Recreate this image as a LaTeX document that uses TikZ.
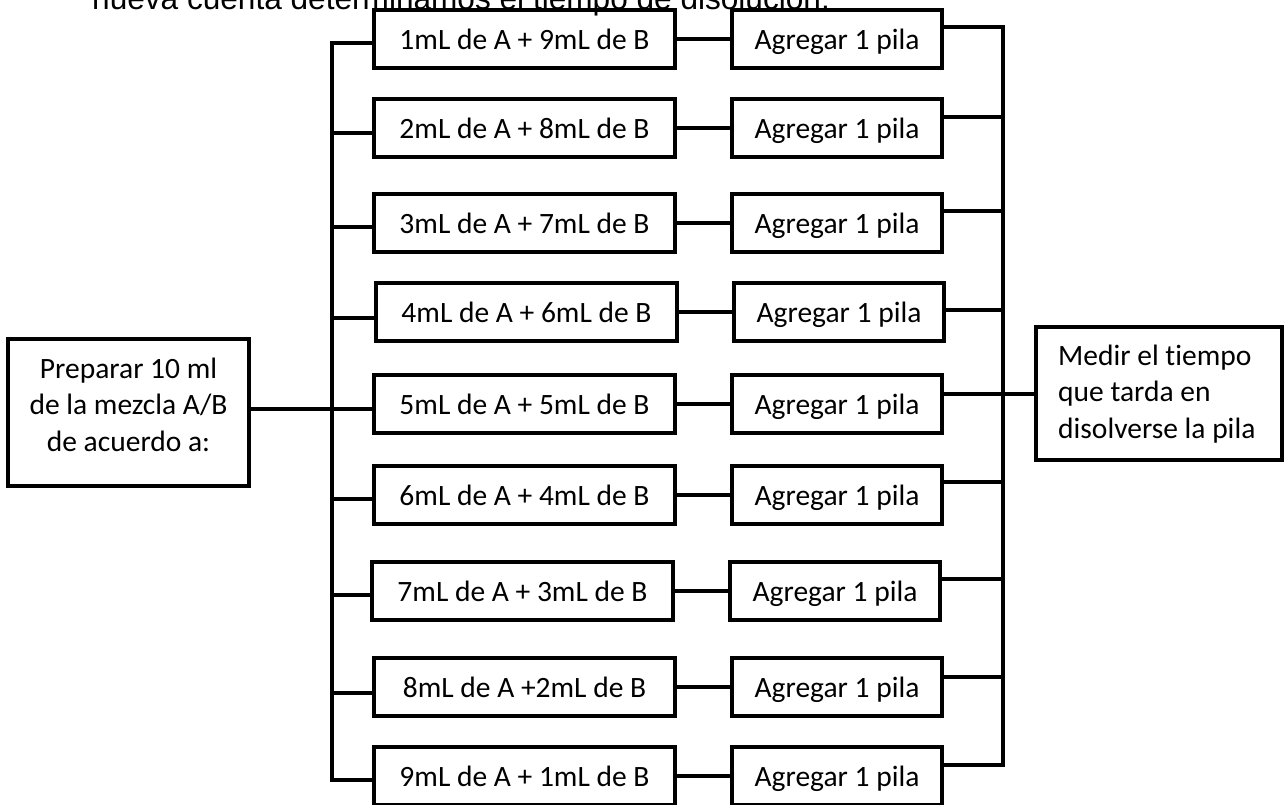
\documentclass[tikz,border=0pt]{standalone}
\usepackage{fontspec}
\setmainfont[Ligatures=NoCommon]{Carlito}
\newfontfamily\arialf{Liberation Sans}
\usetikzlibrary{calc}
\begin{document}
\begin{tikzpicture}[x=1pt,y=-1pt,
  box/.style={draw, line width=3.2pt, minimum width=301pt, minimum height=58pt, inner sep=0pt,
    text height=22pt, text depth=2pt,
    font=\fontsize{29.5}{36.5}\selectfont},
  pbox/.style={box, minimum width=210pt},
  frame/.style={draw, line width=3.2pt, inner sep=0pt},
  txt/.style={inner sep=0pt, font=\fontsize{29.5}{36.5}\selectfont},
  wire/.style={line width=3.2pt}]
\useasboundingbox (0,0) rectangle (1288,804);

% cut-off heading
\node[anchor=base west, inner sep=0pt, font=\arialf\fontsize{31.6}{38}\selectfont] (head) at (92,9)
  {nueva cuenta determinamos el tiempo de disolución.};

% left box
\node[frame, minimum width=241pt, minimum height=147pt] (L) at (128.5,412.5) {};
\node[txt, align=center, anchor=base] (Lt) at (128.5,451)
  {Preparar 10 ml\\de la mezcla A/B\\de acuerdo a:};

% right box
\node[frame, minimum width=246pt, minimum height=133pt] (M) at (1159,393.5) {};
\node[txt, align=left, anchor=base west] (Mt) at (1058,438)
  {Medir el tiempo\\que tarda en\\disolverse la pila};

\coordinate (TL) at (332,0);
\coordinate (TR) at (1003,0);

\foreach \i/\y/\dx/\lo/\ro/\t in {
  1/39/0/4/-12/{1mL de A + 9mL de B},
  2/128/0/5/-11/{2mL de A + 8mL de B},
  3/223/0/4/-12/{3mL de A + 7mL de B},
  4/312/2/6/-2/{4mL de A + 6mL de B},
  5/404/0/5/-10/{5mL de A + 5mL de B},
  6/495/0/4/-13/{6mL de A + 4mL de B},
  7/591/-2/4/-12/{7mL de A + 3mL de B},
  8/687/0/6/-10/{8mL de A +2mL de B},
  9/776/0/4/-11/{9mL de A + 1mL de B}}{
  \node[box] (b\i) at (524.5+\dx,\y) {\t};
  \node[pbox] (a\i) at (837+\dx,\y) {Agregar 1 pila};
  \draw[wire] (b\i.east) -- (a\i.west);
  \coordinate (bl\i) at ($(b\i.west)+(0,\lo)$);
  \coordinate (ar\i) at ($(a\i.east)+(0,\ro)$);
  \draw[wire] (bl\i) -- (TL |- bl\i);
  \draw[wire] (ar\i) -- (TR |- ar\i);
}
% trunks
\draw[wire] ($(TL |- bl1)+(0,-1.6)$) -- ($(TL |- bl9)+(0,1.6)$);
\draw[wire] ($(TR |- ar1)+(0,-1.6)$) -- ($(TR |- ar9)+(0,1.6)$);
% main connections
\draw[wire] (L.east |- bl5) -- (TL |- bl5);
\draw[wire] (TR |- ar5) -- (M.west |- ar5);
\end{tikzpicture}
\end{document}
